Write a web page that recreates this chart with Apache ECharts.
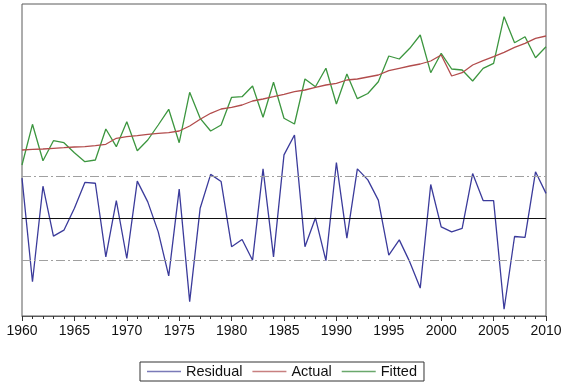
<!DOCTYPE html>
<html>
<head>
<meta charset="utf-8">
<script src="https://cdn.jsdelivr.net/npm/echarts@6/dist/echarts.min.js"></script>
<style>html,body{margin:0;padding:0;background:#fff;}#c{width:566px;height:387px;}</style>
</head>
<body>
<div id="c"></div>
<script>
const years = [];
for (let y = 1960; y <= 2010; y++) years.push(y);

const actual = [16.6,16.67,16.7,16.77,16.83,16.9,16.93,17.03,17.17,17.77,
17.93,18.03,18.17,18.27,18.33,18.5,19.0,19.67,20.27,20.7,
20.87,21.1,21.5,21.7,21.93,22.17,22.43,22.6,22.87,23.1,
23.27,23.6,23.7,23.9,24.1,24.53,24.77,25.0,25.2,25.5,
26.1,24.0,24.33,25.1,25.53,25.93,26.37,26.87,27.27,27.77,28.0];

const fitted = [15.1,19.17,15.53,17.53,17.33,16.33,15.43,15.6,18.7,16.93,
19.43,16.53,17.6,19.1,20.67,17.33,22.37,19.77,18.5,19.1,
21.87,21.93,23.0,19.87,23.37,19.77,19.2,23.7,22.93,24.77,
21.2,24.2,21.73,22.25,23.43,26.0,25.7,26.77,28.1,24.33,
26.27,24.7,24.6,23.5,24.77,25.27,29.93,27.33,27.93,25.83,26.93];

const residual = [0.95,-1.50,0.76,-0.42,-0.28,0.24,0.85,0.83,-0.91,0.42,
-0.95,0.88,0.39,-0.32,-1.36,0.69,-1.97,0.24,1.04,0.87,
-0.67,-0.50,-0.99,1.17,-0.91,1.50,1.97,-0.67,0.01,-1.00,
1.32,-0.47,1.17,0.91,0.43,-0.87,-0.51,-1.03,-1.65,0.80,
-0.20,-0.32,-0.24,1.06,0.42,0.42,-2.15,-0.43,-0.45,1.10,0.59];

const bandLevels = [1, -1];
const zeroLevel = 0;

const pair = arr => years.map((y, i) => [y, arr[i]]);

const chart = echarts.init(document.getElementById('c'), null, {renderer: 'canvas'});
chart.setOption({
  animation: false,
  backgroundColor: '#fff',
  textStyle: {fontFamily: 'Liberation Sans, Arial, sans-serif'},
  grid: {left: 22, right: 20, top: 4, bottom: 71, show: true, borderColor: '#5a5a5a', borderWidth: 1, backgroundColor: 'transparent'},
  legend: {
    left: 140, top: 362,
    data: [
      {name: 'Residual', icon: 'rect', itemStyle: {color: '#7a7ab8'}},
      {name: 'Actual', icon: 'rect', itemStyle: {color: '#c88080'}},
      {name: 'Fitted', icon: 'rect', itemStyle: {color: '#6aa86c'}}
    ],
    itemWidth: 34, itemHeight: 1.5, itemGap: 10,
    borderColor: '#333', borderWidth: 1, padding: [2, 7, 2, 7],
    textStyle: {fontSize: 14.5, color: '#111', fontFamily: 'Liberation Sans, Arial, sans-serif'}
  },
  xAxis: {
    type: 'value', min: 1960, max: 2010, interval: 5,
    axisLine: {show: true, lineStyle: {color: '#5a5a5a', width: 1}},
    axisTick: {show: true, length: 5, lineStyle: {color: '#333'}},
    minorTick: {show: true, splitNumber: 5, length: 3, lineStyle: {color: '#333'}},
    splitLine: {show: false},
    axisLabel: {formatter: v => String(v), fontSize: 14, color: '#111', margin: 8}
  },
  yAxis: [
    {type: 'value', min: 0, max: 31.2, show: false, splitLine: {show: false}},
    {type: 'value', min: -2.31, max: 5.07, show: false, splitLine: {show: false}}
  ],
  series: [
    {
      name: 'Residual', type: 'line', yAxisIndex: 1, data: pair(residual),
      symbol: 'none', lineStyle: {color: '#3b3b9b', width: 1.3}, itemStyle: {color: '#3b3b9b'},
      z: 3,
      markLine: {
        silent: true, symbol: 'none', label: {show: false},
        data: [
          {yAxis: zeroLevel, lineStyle: {color: '#111', width: 1.2, type: 'solid'}},
          {yAxis: bandLevels[0], lineStyle: {color: '#a0a0a0', width: 1, type: [9, 3, 2, 3]}},
          {yAxis: bandLevels[1], lineStyle: {color: '#a0a0a0', width: 1, type: [9, 3, 2, 3]}}
        ]
      }
    },
    {
      name: 'Actual', type: 'line', yAxisIndex: 0, data: pair(actual),
      symbol: 'none', lineStyle: {color: '#b24c4c', width: 1.3}, itemStyle: {color: '#b24c4c'}, z: 4
    },
    {
      name: 'Fitted', type: 'line', yAxisIndex: 0, data: pair(fitted),
      symbol: 'none', lineStyle: {color: '#3c963f', width: 1.3}, itemStyle: {color: '#3c963f'}, z: 3
    }
  ]
});
</script>
</body>
</html>
